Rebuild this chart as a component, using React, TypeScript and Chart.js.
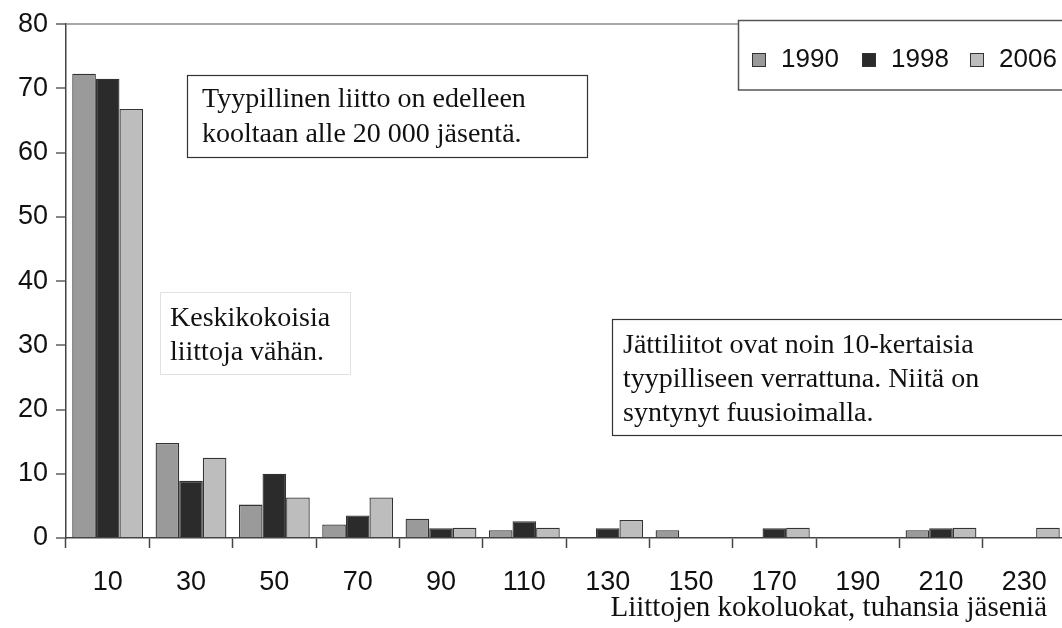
import React, { useEffect, useRef } from "react";
import { Chart, registerables } from "chart.js";

Chart.register(...registerables);

const categories = ["10", "30", "50", "70", "90", "110", "130", "150", "170", "190", "210", "230"];
const seriesLabels = ["1990", "1998", "2006"];
const values1990 = [72.3, 14.8, 5.2, 2.1, 3.0, 1.2, 0, 1.2, 0, 0, 1.2, 0];
const values1998 = [71.5, 8.9, 10.0, 3.5, 1.5, 2.6, 1.5, 0, 1.5, 0, 1.5, 0];
const values2006 = [66.8, 12.5, 6.3, 6.3, 1.6, 1.6, 2.8, 0, 1.6, 0, 1.6, 1.6];
const seriesColors = ["#9a9a9a", "#2b2b2b", "#bdbdbd"];
const yTicks = [0, 10, 20, 30, 40, 50, 60, 70, 80];

const note1 = ["Tyypillinen liitto on edelleen", "kooltaan alle 20 000 jäsentä."];
const note2 = ["Keskikokoisia", "liittoja vähän."];
const note3 = ["Jättiliitot ovat noin 10-kertaisia", "tyypilliseen verrattuna. Niitä on", "syntynyt fuusioimalla."];
const xTitle = "Liittojen kokoluokat, tuhansia jäseniä";

const SERIF = "'Liberation Serif', 'Times New Roman', serif";
const SANS = "'Liberation Sans', Arial, sans-serif";

const overlayPlugin = {
  id: "overlay",
  afterDraw(chart: any) {
    const ctx = chart.ctx as CanvasRenderingContext2D;
    ctx.save();
    // legend box
    ctx.fillStyle = "#ffffff";
    ctx.fillRect(738, 20, 340, 70);
    ctx.strokeStyle = "#555";
    ctx.lineWidth = 1.5;
    ctx.strokeRect(738.5, 20.5, 340, 69.5);
    const lx = [752, 862, 970];
    ctx.font = `26px ${SANS}`;
    ctx.textBaseline = "middle";
    chart.data.datasets.forEach((ds: any, i: number) => {
      ctx.fillStyle = ds.backgroundColor;
      ctx.fillRect(lx[i], 53, 13, 13);
      ctx.strokeStyle = "#333";
      ctx.lineWidth = 1;
      ctx.strokeRect(lx[i] + 0.5, 53.5, 13, 13);
      ctx.fillStyle = "#111";
      ctx.fillText(ds.label, lx[i] + 29, 60);
    });

    // notes
    ctx.font = `28px ${SERIF}`;
    ctx.textBaseline = "alphabetic";
    ctx.fillStyle = "#fff";
    ctx.fillRect(187, 75, 400, 82);
    ctx.strokeStyle = "#333";
    ctx.lineWidth = 1.2;
    ctx.strokeRect(187.5, 75.5, 400, 82);
    ctx.fillStyle = "#111";
    note1.forEach((t, i) => ctx.fillText(t, 202, 107 + i * 35));

    ctx.strokeStyle = "#e2e2e2";
    ctx.lineWidth = 1;
    ctx.strokeRect(160.5, 292.5, 190, 82);
    ctx.fillStyle = "#111";
    note2.forEach((t, i) => ctx.fillText(t, 170, 326 + i * 34));

    ctx.fillStyle = "#fff";
    ctx.fillRect(612, 319, 460, 116);
    ctx.strokeStyle = "#333";
    ctx.lineWidth = 1.2;
    ctx.strokeRect(612.5, 319.5, 460, 116);
    ctx.fillStyle = "#111";
    note3.forEach((t, i) => ctx.fillText(t, 623, 353 + i * 34));

    // x title
    ctx.font = `29px ${SERIF}`;
    ctx.textAlign = "right";
    ctx.fillText(xTitle, 1047, 616);
    ctx.restore();
  },
};

export default function App() {
  const ref = useRef<HTMLCanvasElement | null>(null);
  useEffect(() => {
    document.body.style.margin = "0";
    const canvas = ref.current!;
    const chart = new Chart(canvas, {
      type: "bar",
      data: {
        labels: categories,
        datasets: [
          { label: seriesLabels[0], data: values1990, backgroundColor: seriesColors[0] },
          { label: seriesLabels[1], data: values1998, backgroundColor: seriesColors[1] },
          { label: seriesLabels[2], data: values2006, backgroundColor: seriesColors[2] },
        ].map((d) => ({
          ...d,
          borderColor: "#333",
          borderWidth: 1.3,
          borderSkipped: "bottom",
          categoryPercentage: 0.85,
          barPercentage: 1.0,
        })),
      },
      options: {
        responsive: false,
        animation: false,
        devicePixelRatio: 1,
        layout: { padding: { top: 20, right: 14, left: 0, bottom: 0 } },
        plugins: { legend: { display: false }, tooltip: { enabled: false }, title: { display: false } },
        scales: {
          x: {
            offset: true,
            afterFit: (s: any) => {
              s.height = 90;
            },
            border: { display: true, color: "#444", width: 1.5 },
            grid: {
              offset: true,
              drawOnChartArea: false,
              drawTicks: true,
              tickLength: 10,
              tickColor: "#444",
              tickWidth: 1.5,
            },
            ticks: {
              font: { family: SANS, size: 27 },
              color: "#111",
              padding: 18,
              maxRotation: 0,
              autoSkip: false,
            },
          },
          y: {
            min: 0,
            max: 80,
            afterFit: (s: any) => {
              s.width = 66;
            },
            afterBuildTicks: (s: any) => {
              s.ticks = yTicks.map((v) => ({ value: v }));
            },
            border: { display: true, color: "#444", width: 1.5 },
            grid: {
              color: (c: any) => (c.tick && c.tick.value === 80 ? "#a8a8a8" : "rgba(0,0,0,0)"),
              lineWidth: 2,
              tickLength: 10,
              tickColor: "#444",
              tickWidth: 1.3,
            },
            ticks: {
              font: { family: SANS, size: 27 },
              color: "#111",
              padding: 8,
            },
          },
        },
      },
      plugins: [overlayPlugin],
    });
    return () => chart.destroy();
  }, []);
  return (
    <div style={{ position: "fixed", left: 0, top: 0, width: 1062, height: 628, overflow: "hidden", background: "#fff" }}>
      <canvas ref={ref} width={1080} height={628} style={{ display: "block", width: 1080, height: 628 }} />
    </div>
  );
}
